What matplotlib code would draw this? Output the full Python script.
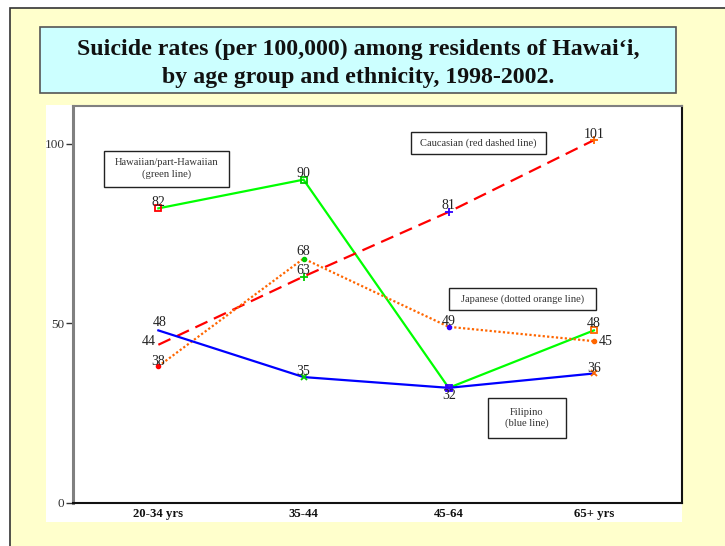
import matplotlib
matplotlib.use("Agg")
import matplotlib.pyplot as plt
from matplotlib.patches import Rectangle

# Data
age_groups = ["20-34 yrs", "35-44", "45-64", "65+ yrs"]
hawaiian = [82, 90, 32, 48]
caucasian = [44, 63, 81, 101]
japanese = [38, 68, 49, 45]
filipino = [48, 35, 32, 36]
y_ticks = [0, 50, 100]

title_text = "Suicide rates (per 100,000) among residents of Hawai\u2018i,\nby age group and ethnicity, 1998-2002."

W, H = 725, 546
fig = plt.figure(figsize=(W / 100, H / 100), dpi=100)
fig.patch.set_facecolor("white")

def px_rect(x0, y0, x1, y1, zorder=-5, **kw):
    """Rectangle in figure pixel coords (origin top-left)."""
    r = Rectangle((x0 / W, 1 - y1 / H), (x1 - x0) / W, (y1 - y0) / H,
                  transform=fig.transFigure, figure=fig, zorder=zorder, **kw)
    fig.patches.append(r)
    return r

serif = ["Liberation Serif", "DejaVu Serif"]

# slide background with frame
px_rect(9.5, 8, W + 20, H + 20, zorder=-10, facecolor="#FFFFCC", edgecolor="#333333", linewidth=1.2)
# title box
px_rect(40, 27, 676, 93, zorder=-9, facecolor="#CCFFFF", edgecolor="#555555", linewidth=1.2)
fig.text((40 + 676) / 2 / W, 1 - 63.5 / H, title_text, ha="center", va="center",
         fontsize=17.2, fontweight="bold", family=serif, color="#111111",
         linespacing=1.45)
# white chart area
px_rect(45.7, 105.3, 681.7, 521.7, zorder=-9, facecolor="white", edgecolor="none")

ax_l, ax_r, ax_t, ax_b = 72.7, 681.7, 105.7, 502.7
ax = fig.add_axes([ax_l / W, 1 - ax_b / H, (ax_r - ax_l) / W, (ax_b - ax_t) / H])
ax.set_facecolor("white")

x = list(range(len(age_groups)))
ax.set_xlim(-0.59, 3.605)
ax.set_ylim(0, 110.6)

ax.plot(x, hawaiian, color="#00FF00", lw=1.6, solid_joinstyle="miter", zorder=3)
ax.plot(x, caucasian, color="#FF0000", lw=1.6, dashes=(6, 3.2), zorder=3)
ax.plot(x, japanese, color="#FF6600", lw=1.6, linestyle=(0, (1, 1)), zorder=3)
ax.plot(x, filipino, color="#0000FF", lw=1.6, zorder=3)

# per-category marker colours
pt_colors = ["#FF0000", "#00CC00", "#3300FF", "#FF6600"]
for i in x:
    c = pt_colors[i]
    ax.plot(i, hawaiian[i], marker="s", ms=4.5, mfc="none", mec=c, mew=1.3, zorder=4)
    if i > 0:
        ax.plot(i, caucasian[i], marker="+", ms=6, mec=c, mew=1.3, zorder=4)
    ax.plot(i, japanese[i], marker="o", ms=3.0, mfc=c, mec=c, zorder=4)
    if i > 0:
        ax.plot(i, filipino[i], marker="x", ms=4, mec=c, mew=1.3, zorder=4)

label_kw = dict(fontsize=10, family=serif, color="#222222", zorder=5)

def label(i, v, dx=0, dy=6, ha="center"):
    ax.annotate(f"{v}", (i, v), xytext=(dx, dy), textcoords="offset pixels",
                ha=ha, va="center", **label_kw)

# Hawaiian
label(0, hawaiian[0], dy=6)
label(1, hawaiian[1], dy=6)
label(2, hawaiian[2], dy=-8)
label(3, hawaiian[3], dy=6.5)
# Caucasian
label(0, caucasian[0], dx=-3, dy=3, ha="right")
label(1, caucasian[1], dy=6)
label(2, caucasian[2], dy=6)
label(3, caucasian[3], dy=6)
# Japanese
label(0, japanese[0], dy=5)
label(1, japanese[1], dy=7)
label(2, japanese[2], dy=5.5)
label(3, japanese[3], dx=5, dy=0, ha="left")
# Filipino
label(0, filipino[0], dx=1.5, dy=7.5)
label(1, filipino[1], dy=5.5)
label(3, filipino[3], dy=5)

# series captions
box_kw = dict(fontsize=7.6, family=serif, color="#333333", ha="center", va="center",
              linespacing=1.3)

def caption(x0, y0, x1, y1, text):
    px_rect(x0, y0, x1, y1, zorder=6, facecolor="white", edgecolor="#222222", linewidth=1.0)
    fig.text((x0 + x1) / 2 / W, 1 - (y0 + y1) / 2 / H, text, zorder=7, **box_kw)

caption(104, 150.7, 229, 187, "Hawaiian/part-Hawaiian\n(green line)")
caption(411, 132, 546, 154, "Caucasian (red dashed line)")
caption(449, 288, 596, 310, "Japanese (dotted orange line)")
caption(488, 398, 566, 438, "Filipino\n(blue line)")

# axes styling
ax.set_xticks(x)
ax.set_xticklabels(age_groups, fontsize=9.2, fontweight="bold", family=serif, color="#111111")
ax.tick_params(axis="x", length=0, pad=4)
ax.set_yticks(y_ticks)
ax.set_yticklabels([str(t) for t in y_ticks], fontsize=9.5, family=serif, color="#333333")
ax.tick_params(axis="y", length=5, width=1, color="#333333", pad=1)
ax.spines["left"].set_color("#808080")
ax.spines["left"].set_linewidth(2.2)
ax.spines["top"].set_color("#808080")
ax.spines["top"].set_linewidth(1.5)
ax.spines["right"].set_color("#111111")
ax.spines["right"].set_linewidth(1.5)
ax.spines["bottom"].set_color("#111111")
ax.spines["bottom"].set_linewidth(1.5)

fig.savefig("out.png", dpi=100)
